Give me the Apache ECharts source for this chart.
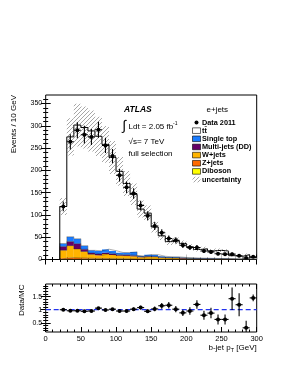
<!DOCTYPE html>
<html><head><meta charset="utf-8">
<script src="https://cdn.jsdelivr.net/npm/echarts@6/dist/echarts.min.js"></script>
<style>html,body{margin:0;padding:0;background:#fff}#c{width:295px;height:382px}</style>
</head><body><div id="c"></div>
<script>
// ---------------- data ----------------
const binLow    = [20,30,40,50,60,70,80,90,100,110,120,130,140,150,160,170,180,190,200,210,220,230,240,250,260,270,280,290];
const binWidth  = 10;
const ttbar     = [83,224,255,265,268,257,235,209,182,155,129,105,93,62,46,34,36,31.4,24.5,19.2,21.2,16.9,18.3,17,7,5.8,9.8,3.5];
const singleTop = [7,11,11,8,6,7,8,7,5,5,8,2,3.5,4,2.5,2,2,1.5,1.5,1.2,1,1,0.8,0.8,0.6,0.5,0.4,0.3];
const multiJets = [8,9,12,5,3,3,3,3,2,2,2,1,1.5,1.5,1,1,0.8,0.6,0.5,0.5,0.4,0.3,0.3,0.3,0.2,0.2,0.2,0.1];
const wJets     = [18,27,20,15,9,7,10,8,7,7,6,4,5,4.5,3,2.5,2.5,2,1.5,1.2,1,1,0.8,0.6,0.5,0.4,0.4,0.3];
const zJets     = [2.5,3.5,3,2.5,2,2,1.8,1.6,1.4,1.2,1,0.9,0.8,0.7,0.6,0.5,0.5,0.4,0.4,0.3,0.3,0.2,0.2,0.2,0.2,0.1,0.1,0.1];
const diboson   = [0.4,0.6,0.6,0.5,0.5,0.4,0.4,0.3,0.3,0.3,0.2,0.2,0.2,0.2,0.1,0.1,0.1,0.1,0.1,0.1,0.1,0.1,0.1,0.1,0.05,0.05,0.05,0.05];
const mcUnc     = [19,42,48,47,46,44,41,37,32,28,24,19,17,12.5,9.5,7.5,7.5,6.5,5.5,4.5,4.5,4,4,3.8,2,1.8,2.5,1.2];
const data2011  = [119,264,290,280,275,291,256,232,189,162,148,121,98,75,60,47,43,32,27,27,19,17,13,12,12,8.5,3.5,6];
const dataErr   = [11,17,18,20,18,18,17,16,14,13,12,11,10,9,8,7,7,6,5.5,5.5,4.5,4,3.6,3.5,3.5,3,2,2.5];
const ratio     = [1.0,0.96,0.96,0.94,0.95,1.06,0.99,1.02,0.95,0.95,1.02,1.08,0.94,1.03,1.15,1.17,1.02,0.88,0.95,1.2,0.79,0.87,0.63,0.63,1.42,1.19,0.31,1.45];
const ratioErr  = [0.05,0.04,0.04,0.04,0.04,0.04,0.04,0.04,0.05,0.05,0.06,0.07,0.07,0.09,0.11,0.12,0.12,0.12,0.14,0.16,0.17,0.2,0.19,0.19,0.43,0.44,0.27,0.13];
const xTicks      = [0,50,100,150,200,250,300];
const xMinor      = [10,20,30,40,60,70,80,90,110,120,130,140,160,170,180,190,210,220,230,240,260,270,280,290];
const yTicksMain  = [0,50,100,150,200,250,300,350];
const yMinorMain  = [10,20,30,40,60,70,80,90,110,120,130,140,160,170,180,190,210,220,230,240,260,270,280,290,310,320,330,340,360];
const yTicksRatio = [0.5,1,1.5];
const yMinorRatio = [0.2,0.3,0.4,0.6,0.7,0.8,0.9,1.1,1.2,1.3,1.4,1.6,1.7,1.8,1.9];

// ---------------- layout / style ----------------
const FONT = 'Liberation Sans, Helvetica, Arial, sans-serif';
const G_MAIN = {left:45.7, width:211, top:95, height:164.5};
const G_RAT  = {left:45.7, width:211, top:284, height:48};
const MAIN_Y = [0, 369];
const RAT_Y  = [0.15, 1.98];
const COLORS = {tt:'#ffffff', st:'#1a7cff', mj:'#660066', w:'#ffb400', z:'#ff6a00', db:'#ffff00'};

function hatchCanvas(){
  const c=document.createElement('canvas'); c.width=4; c.height=4;
  const g=c.getContext('2d'); g.strokeStyle='#6a6a6a'; g.lineWidth=0.6;
  g.beginPath(); g.moveTo(0,4); g.lineTo(4,0); g.moveTo(-1,1); g.lineTo(1,-1); g.moveTo(3,5); g.lineTo(5,3); g.stroke();
  return c;
}
const HATCH = {image: hatchCanvas(), repeat:'repeat'};

// stack components, bottom to top
const comps = [
  {vals:diboson, color:COLORS.db},
  {vals:zJets, color:COLORS.z},
  {vals:wJets, color:COLORS.w},
  {vals:multiJets, color:COLORS.mj},
  {vals:singleTop, color:COLORS.st},
  {vals:ttbar, color:COLORS.tt}
];
const cum = binLow.map(()=>0);
const series = [];
comps.forEach((c,ci)=>{
  const rows = binLow.map((lo,i)=>{ const b=cum[i]; cum[i]+=c.vals[i]; return [lo, lo+binWidth, b, cum[i]]; });
  series.push({
    type:'custom', xAxisIndex:0, yAxisIndex:0, z:2, clip:true,
    data: rows, encode:{x:[0,1], y:[2,3]},
    renderItem:(p,api)=>{
      const a=api.coord([api.value(0), api.value(3)]), b=api.coord([api.value(1), api.value(2)]);
      return {type:'rect', shape:{x:a[0], y:a[1], width:b[0]-a[0], height:b[1]-a[1]}, style:{fill:c.color}};
    }
  });
  const step = [[binLow[0],0]].concat(rows.map(r=>[r[0], r[3]])).concat([[rows[rows.length-1][1], rows[rows.length-1][3]]]);
  series.push({
    type:'line', xAxisIndex:0, yAxisIndex:0, z:3, step:'end', symbol:'none', data:step,
    lineStyle: ci===comps.length-1 ? {color:'#000', width:1} : {color:'#222', width:0.5, opacity:0.7}
  });
});
const mcTotal = cum.slice();

// uncertainty band
series.push({
  type:'custom', xAxisIndex:0, yAxisIndex:0, z:4, clip:true,
  data: binLow.map((lo,i)=>[lo, lo+binWidth, mcTotal[i]-mcUnc[i], mcTotal[i]+mcUnc[i]]),
  encode:{x:[0,1], y:[2,3]},
  renderItem:(p,api)=>{
    const a=api.coord([api.value(0), api.value(3)]), b=api.coord([api.value(1), api.value(2)]);
    return {type:'rect', shape:{x:a[0], y:a[1], width:b[0]-a[0], height:b[1]-a[1]}, style:{fill:HATCH}};
  }
});

function pointsSeries(xi, yi, vals, errs){
  return {
    type:'custom', xAxisIndex:xi, yAxisIndex:yi, z:6, clip:true,
    data: binLow.map((lo,i)=>[lo+binWidth/2, vals[i], errs[i], lo, lo+binWidth]),
    encode:{x:0, y:1},
    renderItem:(p,api)=>{
      const x=api.value(0), y=api.value(1), e=api.value(2);
      const c=api.coord([x,y]), top=api.coord([x,y+e]), bot=api.coord([x,y-e]);
      const l=api.coord([api.value(3),y]), r=api.coord([api.value(4),y]);
      const st={stroke:'#000', lineWidth:1.1};
      return {type:'group', children:[
        {type:'line', shape:{x1:c[0], y1:top[1], x2:c[0], y2:bot[1]}, style:st},
        {type:'line', shape:{x1:l[0], y1:c[1], x2:r[0], y2:c[1]}, style:st},
        {type:'circle', shape:{cx:c[0], cy:c[1], r:2}, style:{fill:'#000'}}
      ]};
    }
  };
}
series.push(pointsSeries(0,0,data2011,dataErr));

// ratio panel
series.push({type:'line', xAxisIndex:2, yAxisIndex:4, z:3, symbol:'none', data:[[0,1],[300,1]],
  lineStyle:{color:'#2233ee', width:1.2, type:[5,3]}});
series.push(pointsSeries(2,4,ratio,ratioErr));

// ---------------- axes ----------------
const lbl = (show, size)=>({show, color:'#000', fontSize:size, fontFamily:FONT});
function xAx(grid, pos, ticks, len, labels){
  return {type:'value', gridIndex:grid, position:pos, min:0, max:300,
    axisLine:{show:false}, splitLine:{show:false},
    axisTick:{show:true, inside:true, length:len, customValues:ticks, lineStyle:{color:'#000', width:1}},
    axisLabel: labels ? Object.assign(lbl(true,7.5),{customValues:ticks, margin:3}) : {show:false}};
}
function yAx(grid, pos, range, ticks, len, labels){
  return {type:'value', gridIndex:grid, position:pos, min:range[0], max:range[1],
    axisLine:{show:false}, splitLine:{show:false},
    axisTick:{show:true, inside:true, length:len, customValues:ticks, lineStyle:{color:'#000', width:1}},
    axisLabel: labels ? Object.assign(lbl(true,7),{customValues:ticks, margin:3.5}) : {show:false}};
}
const xAxis = [
  xAx(0,'bottom',xTicks,5,false), xAx(0,'top',xTicks,5,false),
  xAx(1,'bottom',xTicks,5,true),  xAx(1,'top',xTicks,5,false),
  xAx(0,'bottom',xMinor,2.5,false), xAx(0,'top',xMinor,2.5,false),
  xAx(1,'bottom',xMinor,2.5,false), xAx(1,'top',xMinor,2.5,false)
];
const yAxis = [
  yAx(0,'left',MAIN_Y,yTicksMain,5,true), yAx(0,'left',MAIN_Y,yMinorMain,2.5,false),
  yAx(0,'right',MAIN_Y,yTicksMain,5,false), yAx(0,'right',MAIN_Y,yMinorMain,2.5,false),
  yAx(1,'left',RAT_Y,yTicksRatio,5,true), yAx(1,'left',RAT_Y,yMinorRatio,2.5,false),
  yAx(1,'right',RAT_Y,yTicksRatio,5,false), yAx(1,'right',RAT_Y,yMinorRatio,2.5,false)
];

// ---------------- texts & legend ----------------
const T = (x,y,text,o)=>({type:'text', x, y, z:20, style:Object.assign({text, fill:'#000', fontFamily:FONT, fontSize:8, align:'left', verticalAlign:'middle'}, o||{})});
const graphic = [
  T(14, 95, 'Events / 10 GeV', {align:'right'}),
  T(22, 284.5, 'Data/MC', {align:'right'}),
  {type:'text', x:256.7, y:347.5, z:20, style:{
    text:'{a|b-jet p}{s|T}{a| [GeV]}', align:'right', verticalAlign:'middle',
    rich:{a:{fontSize:8, fontFamily:FONT, fill:'#000'}, s:{fontSize:5.5, fontFamily:FONT, fill:'#000', padding:[5,0,0,0]}}}},
  T(124, 109.5, 'ATLAS', {fontWeight:'bold', fontStyle:'italic', fontSize:8.5}),
  T(122.5, 126, '∫', {fontSize:14}),
  T(128.5, 126.5, 'Ldt = 2.05 fb'),
  T(173, 123.5, '-1', {fontSize:5}),
  T(128.5, 142, '√s= 7 TeV'),
  T(128.5, 153.5, 'full selection'),
  T(206.5, 110, 'e+jets')
];
graphic[0].rotation = Math.PI/2;
graphic[1].rotation = Math.PI/2;
const legRows = [
  {label:'Data 2011', kind:'pt'},
  {label:'tt\u0304', kind:'box', fill:COLORS.tt},
  {label:'Single top', kind:'box', fill:COLORS.st},
  {label:'Multi-jets (DD)', kind:'box', fill:COLORS.mj},
  {label:'W+jets', kind:'box', fill:COLORS.w},
  {label:'Z+jets', kind:'box', fill:COLORS.z},
  {label:'Diboson', kind:'box', fill:COLORS.db},
  {label:'uncertainty', kind:'hatch'}
];
legRows.forEach((r,i)=>{
  const y = 122.5 + i*8.15;
  if(r.kind==='pt') graphic.push({type:'circle', z:20, shape:{cx:196.5, cy:y, r:2}, style:{fill:'#000'}});
  else if(r.kind==='box') graphic.push({type:'rect', z:20, shape:{x:192.5, y:y-2.8, width:8, height:5.6}, style:{fill:r.fill, stroke:'#000', lineWidth:0.6}});
  else graphic.push({type:'rect', z:20, shape:{x:192.5, y:y-2.8, width:8, height:5.6}, style:{fill:HATCH}});
  graphic.push(T(202, y, r.label, {fontSize:7.3, fontWeight:'bold'}));
});

const chart = echarts.init(document.getElementById('c'), null, {renderer:'canvas'});
chart.setOption({
  animation:false, backgroundColor:'#fff',
  grid:[Object.assign({show:true, borderColor:'#000', borderWidth:1, backgroundColor:'transparent'}, G_MAIN),
        Object.assign({show:true, borderColor:'#000', borderWidth:1, backgroundColor:'transparent'}, G_RAT)],
  xAxis, yAxis, series, graphic
});
</script></body></html>
